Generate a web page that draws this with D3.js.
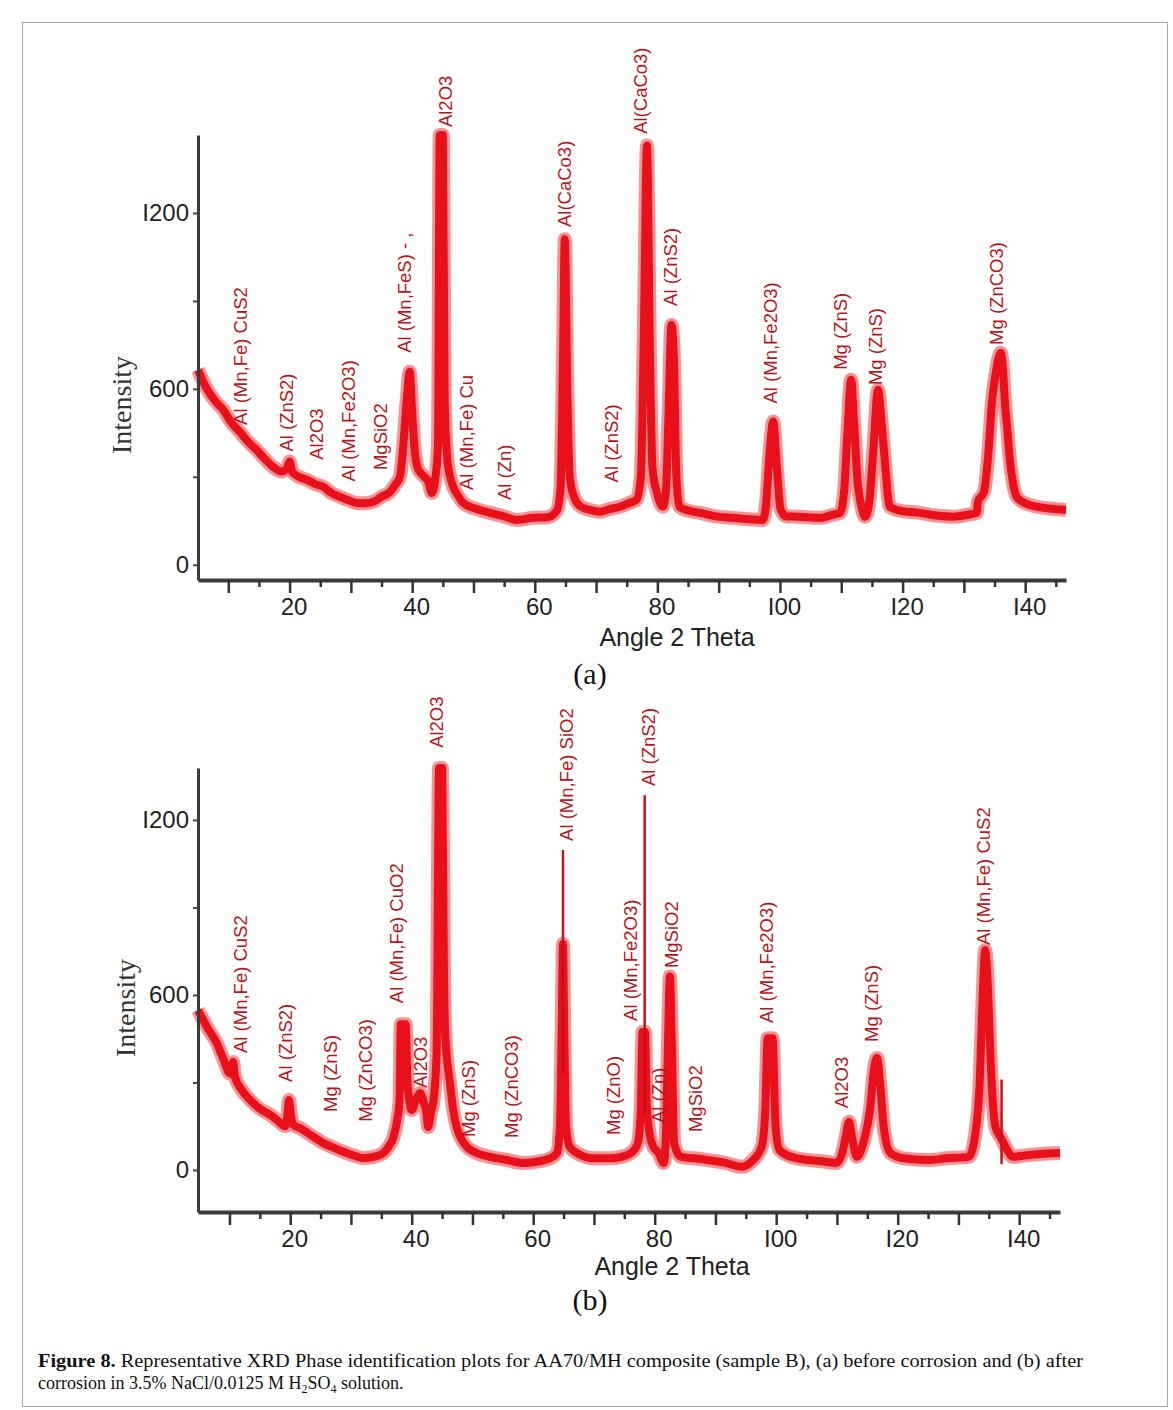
<!DOCTYPE html>
<html>
<head>
<meta charset="utf-8">
<script src="https://cdn.jsdelivr.net/npm/d3@7"></script>
<style>
  body { margin: 0; background: #fff; }
  svg text { font-family: "Liberation Sans", Arial, sans-serif; }
</style>
</head>
<body>
<div id="viz"></div>
<script>
// ---- data ----
// (a) before corrosion: 2 theta and intensity
const thetaA = [5.06, 6.5, 8, 9.2, 10.5, 11.9, 13.2, 14.6, 16, 17.3, 18.7, 19.6, 20.0, 20.4, 21.5, 22.8, 24.2, 25.5, 26.8, 28.2,
  29.6, 30.9, 32.3, 33.7, 35.0, 36.4, 37.3, 38.0, 38.6, 39.1, 39.6, 40.0, 40.4, 40.9, 41.4, 42.0, 42.6, 43.2, 43.8, 44.2,
  44.5, 45.0, 45.3, 45.7, 46.2, 46.7, 47.5, 48.3, 50.5, 52.7, 55, 57, 59.7, 62, 63.6, 64.2, 64.6, 64.9, 65.3, 65.7,
  66.4, 67.4, 69, 70.6, 72.2, 73.9, 75.3, 76.6, 77.3, 77.8, 78.3, 78.8, 79.2, 80.0, 80.9, 81.4, 81.8, 82.3, 82.7, 83.1,
  83.6, 85, 87, 89.5, 92.4, 95, 97.2, 97.7, 98.3, 98.9, 99.5, 100.1, 101, 103, 106.5, 108.5, 109.8, 110.5, 111.0, 111.6,
  112.1, 112.6, 113.3, 113.9, 114.6, 115.2, 116.0, 116.6, 117.2, 117.9, 119.5, 122.8, 125.5, 128.3, 130.5, 132.1, 132.3, 133.3, 134.0, 134.6,
  135.1, 135.7, 136.0, 136.4, 136.7, 137.1, 137.5, 138.0, 138.6, 140, 141.9, 144, 146.66];
const intensityA = [665, 600, 555, 528, 485, 453, 420, 392, 360, 334, 318, 330, 352, 318, 300, 290, 275, 266, 245, 232,
  220, 211, 210, 215, 232, 249, 275, 300, 420, 560, 658, 520, 390, 330, 313, 300, 285, 245, 300, 400,
  1466, 1466, 560, 368, 300, 266, 235, 211, 190, 177, 165, 153, 160, 162, 185, 260, 700, 1110, 600, 300,
  232, 200, 187, 181, 190, 198, 210, 222, 300, 800, 1430, 700, 330, 240, 198, 250, 500, 818, 700, 300,
  198, 185, 177, 165, 160, 155, 153, 200, 380, 489, 330, 190, 165, 164, 160, 170, 177, 260, 450, 631,
  480, 300, 198, 164, 220, 382, 597, 480, 330, 198, 185, 177, 168, 164, 170, 177, 215, 250, 382, 560,
  641, 710, 723, 660, 552, 460, 358, 280, 232, 210, 198, 192, 187];

// (b) after corrosion
const thetaB = [4.82, 6.3, 7.9, 9.0, 10.1, 10.4, 10.6, 10.9, 12.0, 13.4, 15.0, 16.7, 18.0, 19.2, 19.6, 19.8, 20.1, 20.5, 21.6, 23.5,
  25.4, 27.3, 29.3, 30.7, 32.0, 33.7, 35.3, 36.2, 37.0, 37.6, 38.0, 38.2, 39.0, 39.3, 39.6, 40.0, 40.7, 41.4, 42.0, 42.4,
  42.7, 43.2, 43.6, 44.1, 44.5, 45.0, 45.3, 45.5, 46.3, 46.8, 47.4, 48.2, 49.1, 50.5, 52.9, 55.5, 58.4, 61, 62.8, 63.9,
  64.4, 64.7, 64.9, 65.1, 65.4, 66, 67.5, 70, 72.5, 74.5, 76.2, 77.2, 77.7, 78.0, 78.4, 78.7, 79.2, 79.8, 80.6, 81.5,
  81.9, 82.2, 82.5, 82.8, 83.2, 84.3, 86.5, 88.7, 91.5, 94.3, 96, 97.6, 98.2, 98.6, 99.4, 99.9, 100.5, 102.5, 105.4, 107.5,
  109.9, 110.9, 111.5, 112.0, 112.5, 113.3, 114.0, 114.6, 115.4, 116.2, 116.6, 117.1, 117.7, 118.8, 121, 125.0, 128, 131.7, 132.8, 133.5,
  134.0, 134.4, 134.8, 135.3, 135.7, 136.1, 137, 138.0, 138.9, 141, 143.5, 146.72];
const intensityB = [548, 490, 435, 380, 330, 335, 370, 320, 275, 240, 210, 189, 168, 150, 200, 240, 190, 155, 144, 118,
  93, 75, 58, 48, 41, 45, 58, 80, 113, 170, 240, 500, 500, 300, 240, 206, 240, 264, 230, 200,
  147, 200, 240, 400, 1378, 1378, 700, 469, 298, 210, 147, 105, 79, 60, 45, 35, 24, 30, 40, 58,
  150, 500, 775, 500, 150, 80, 55, 40, 40, 45, 60, 90, 200, 473, 473, 220, 120, 79, 60, 24,
  150, 450, 663, 450, 91, 45, 40, 34, 25, 11, 30, 79, 200, 452, 452, 150, 70, 45, 34, 30,
  24, 60, 120, 165, 110, 45, 70, 113, 200, 360, 384, 300, 147, 58, 40, 34, 40, 45, 127, 300,
  600, 754, 650, 377, 220, 147, 110, 70, 45, 50, 55, 58];
// thin sharp reflections in (b): position, top, foot
const spikeThetaB = [64.9, 78.35, 137.1];
const spikeTopB = [1097, 1285, 310];
const spikeFootB = [330, 190, 20];

// peak labels: text, 2 theta of the label, intensity at the label foot
const labelTextA = ["Al (Mn,Fe) CuS2", "Al (ZnS2)", "Al2O3", "Al (Mn,Fe2O3)", "MgSiO2", "Al (Mn,FeS) - ,", "Al2O3",
  "Al (Mn,Fe) Cu", "Al (Zn)", "Al(CaCo3)", "Al (ZnS2)", "Al(CaCo3)", "Al (ZnS2)", "Al (Mn,Fe2O3)",
  "Mg (ZnS)", "Mg (ZnS)", "Mg (ZnCO3)"];
const labelThetaA = [11.9, 19.5, 24.4, 29.6, 34.75, 38.8, 45.35, 48.9, 55.1, 64.9, 72.55, 77.2, 82.05, 98.4, 109.8, 115.5, 135.35];
const labelBaseA = [477, 386, 358, 284, 323, 723, 1493, 255, 221, 1152, 281, 1470, 883, 550, 665, 613, 750];

const labelTextB = ["Al (Mn,Fe) CuS2", "Al (ZnS2)", "Mg (ZnS)", "Mg (ZnCO3)", "Al (Mn,Fe) CuO2", "Al2O3", "Al2O3",
  "Mg (ZnS)", "Mg (ZnCO3)", "Al (Mn,Fe) SiO2", "Mg (ZnO)", "Al (Mn,Fe2O3)", "Al (ZnS2)", "Al (Zn)",
  "MgSiO2", "MgSiO2", "Al (Mn,Fe2O3)", "Al2O3", "Mg (ZnS)", "Al (Mn,Fe) CuS2"];
const labelThetaB = [11.73, 19.14, 26.55, 32.3, 37.5, 41.36, 44.1, 49.26, 56.46, 65.45, 73.13, 75.93, 78.9, 80.54,
  82.73, 86.63, 98.43, 110.78, 115.72, 134.1];
const labelBaseB = [401, 302, 199, 165, 572, 281, 1447, 113, 110, 1128, 120, 511, 1316, 161, 692, 130, 504, 212, 439, 771];

// axes
const xMajorTicks = [10, 20, 30, 40, 50, 60, 70, 80, 90, 100, 110, 120, 130, 140];
const xMinorTicks = [15, 25, 35, 45, 55, 65, 75, 85, 95, 105, 115, 125, 135, 145];
const xTickLabels = { 20: "20", 40: "40", 60: "60", 80: "80", 100: "I00", 120: "I20", 140: "I40" };
const yTicks = [0, 300, 600, 900, 1200];
const yTickLabels = { 0: "0", 600: "600", 1200: "I200" };

// ---- drawing ----
const W = 1173, H = 1410;
const svg = d3.select("#viz").append("svg")
    .attr("width", W)
    .attr("height", H);

svg.append("rect")
    .attr("x", 22.5).attr("y", 22.5)
    .attr("width", 1145).attr("height", 1384)
    .attr("fill", "none")
    .attr("stroke", "#a8a8a8");

const panels = [
  { theta: thetaA, inten: intensityA, lt: labelTextA, lx: labelThetaA, ly: labelBaseA,
    xd: [5.06, 146.66], xr: [198, 1066], yd: [-52, 1466], yr: [580, 135],
    tag: "(a)", tagY: 684, titleX: 677, titleY: 646, ylabX: 121, ylabY: 405 },
  { theta: thetaB, inten: intensityB, lt: labelTextB, lx: labelThetaB, ly: labelBaseB,
    xd: [4.82, 146.72], xr: [198, 1060], yd: [-144, 1378], yr: [1212, 768],
    tag: "(b)", tagY: 1310, titleX: 672, titleY: 1275, ylabX: 125, ylabY: 1008,
    spikes: spikeThetaB.map((t, i) => ({ t: t, top: spikeTopB[i], foot: spikeFootB[i] })) }
];

panels.forEach(function (p) {
    let x = d3.scaleLinear().domain(p.xd).range(p.xr);
    let y = d3.scaleLinear().domain(p.yd).range(p.yr);
    let g = svg.append("g");
    let pts = p.theta.map((t, i) => [t, p.inten[i]]);

    let line = d3.line()
        .x(d => x(d[0]))
        .y(d => y(d[1]))
        .curve(d3.curveMonotoneX);

    // noisy band look: soft wide stroke, then a red core
    g.append("path")
        .attr("d", line(pts))
        .attr("fill", "none")
        .attr("stroke", "#f03c40")
        .attr("stroke-opacity", 0.55)
        .attr("stroke-width", 14)
        .attr("stroke-linejoin", "round");
    g.append("path")
        .attr("d", line(pts))
        .attr("fill", "none")
        .attr("stroke", "#e8101a")
        .attr("stroke-width", 8)
        .attr("stroke-linejoin", "round");

    if (p.spikes) {
        g.selectAll("line.spike")
            .data(p.spikes)
            .enter().append("line")
            .attr("class", "spike")
            .attr("x1", d => x(d.t)).attr("x2", d => x(d.t))
            .attr("y1", d => y(d.foot)).attr("y2", d => y(d.top))
            .attr("stroke", "#c8101a")
            .attr("stroke-width", 2.5);
    }

    // peak labels
    g.selectAll("text.peak")
        .data(p.lt.map((s, i) => ({ s: s, t: p.lx[i], v: p.ly[i] })))
        .enter().append("text")
        .attr("class", "peak")
        .attr("transform", d => "translate(" + x(d.t) + "," + y(d.v) + ") rotate(-90)")
        .attr("dy", "0.36em")
        .attr("font-size", 18.5)
        .attr("fill", "#b8141c")
        .text(d => d.s);

    // x axis
    let axisY = p.yr[0];
    let xAxis = g.append("g")
        .attr("transform", "translate(0," + axisY + ")")
        .call(d3.axisBottom(x).tickValues(xMajorTicks).tickSize(13).tickSizeOuter(0).tickPadding(5)
            .tickFormat(d => xTickLabels[d] || ""));
    xAxis.select(".domain").attr("stroke", "#3a3a3a").attr("stroke-width", 4);
    xAxis.selectAll(".tick line").attr("stroke", "#333").attr("stroke-width", 2.5);
    xAxis.selectAll(".tick text").attr("font-size", 24).attr("fill", "#222").attr("dx", 4)
        .style("font-family", "'Liberation Sans', Arial, sans-serif");

    let xMinor = g.append("g")
        .attr("transform", "translate(0," + axisY + ")")
        .call(d3.axisBottom(x).tickValues(xMinorTicks).tickSize(7).tickFormat(""));
    xMinor.select(".domain").remove();
    xMinor.selectAll(".tick line").attr("stroke", "#333").attr("stroke-width", 2.5);

    // y axis
    let yAxis = g.append("g")
        .attr("transform", "translate(" + p.xr[0] + ",0)")
        .call(d3.axisLeft(y).tickValues(yTicks).tickSize(5).tickSizeOuter(0).tickPadding(4)
            .tickFormat(d => yTickLabels[d] || ""));
    yAxis.select(".domain").attr("stroke", "#3a3a3a").attr("stroke-width", 3);
    yAxis.selectAll(".tick line").attr("stroke", "#444").attr("stroke-width", 2);
    yAxis.selectAll(".tick text").attr("font-size", 24).attr("fill", "#222")
        .style("font-family", "'Liberation Sans', Arial, sans-serif");

    // titles
    g.append("text")
        .attr("x", p.titleX).attr("y", p.titleY)
        .attr("text-anchor", "middle")
        .attr("font-size", 25)
        .attr("fill", "#222")
        .text("Angle 2 Theta");

    g.append("text")
        .attr("transform", "translate(" + p.ylabX + "," + p.ylabY + ") rotate(-90)")
        .attr("text-anchor", "middle")
        .attr("dy", "0.35em")
        .attr("font-size", 28)
        .attr("fill", "#333")
        .style("font-family", "'Liberation Serif', 'Times New Roman', serif")
        .text("Intensity");

    g.append("text")
        .attr("x", 590).attr("y", p.tagY)
        .attr("text-anchor", "middle")
        .attr("font-size", 30)
        .attr("fill", "#111")
        .style("font-family", "'Liberation Serif', 'Times New Roman', serif")
        .text(p.tag);
});

// caption
let cap1 = svg.append("text")
    .attr("x", 38).attr("y", 1367)
    .attr("font-size", 18)
    .attr("fill", "#111")
    .attr("textLength", 1045)
    .attr("lengthAdjust", "spacingAndGlyphs")
    .style("font-family", "'Liberation Serif', 'Times New Roman', serif");
cap1.append("tspan").attr("font-weight", "bold").text("Figure 8.");
cap1.append("tspan").text(" Representative XRD Phase identification plots for AA70/MH composite (sample B), (a) before corrosion and (b) after");

let cap2 = svg.append("text")
    .attr("x", 38).attr("y", 1389)
    .attr("font-size", 18)
    .attr("fill", "#111")
    .style("font-family", "'Liberation Serif', 'Times New Roman', serif");
cap2.append("tspan").text("corrosion in 3.5% NaCl/0.0125 M H");
cap2.append("tspan").attr("dy", 4).attr("font-size", 12).text("2");
cap2.append("tspan").attr("dy", -4).text("SO");
cap2.append("tspan").attr("dy", 4).attr("font-size", 12).text("4");
cap2.append("tspan").attr("dy", -4).text(" solution.");
</script>
</body>
</html>
